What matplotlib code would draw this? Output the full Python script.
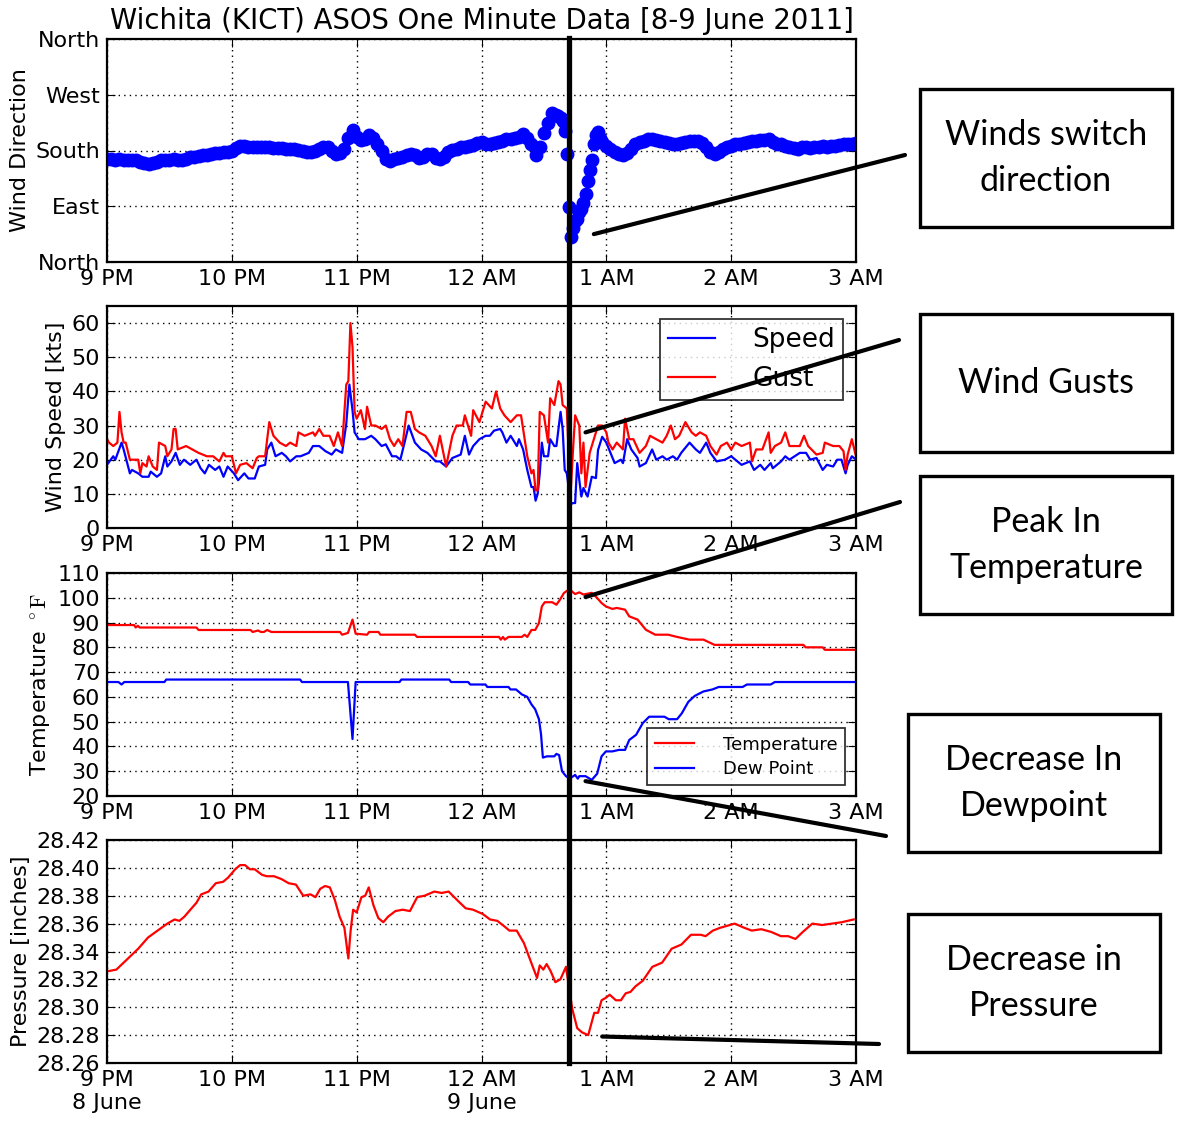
import numpy as np
import matplotlib
matplotlib.use("Agg")
import matplotlib.pyplot as plt
import matplotlib.transforms as mtransforms
from matplotlib.lines import Line2D
from matplotlib.patches import Rectangle, ConnectionPatch

plt.rcParams["mathtext.fontset"] = "cm"

W, H = 1177, 1127

# minutes after 9 PM (8 June)
hour_ticks = [0, 60, 120, 180, 240, 300, 360]
hour_labels = ["9 PM", "10 PM", "11 PM", "12 AM", "1 AM", "2 AM", "3 AM"]
bottom_labels = ["9 PM\n8 June", "10 PM", "11 PM", "12 AM\n9 June", "1 AM", "2 AM", "3 AM"]
split_t = 222

# wind direction [deg]
dir_t = np.r_[np.arange(0, 217, 2), np.arange(217, 238, 1), np.arange(238, 361, 2)]
dir_deg = [
    166, 166, 165, 166, 165, 165, 165, 164, 162, 160, 159, 160, 162, 164, 165, 165,
    166, 165, 165, 167, 169, 170, 171, 172, 173, 175, 176, 176, 177, 178, 179, 184,
    187, 188, 186, 186, 185, 186, 185, 185, 184, 184, 184, 183, 183, 182, 181, 179,
    177, 177, 179, 182, 186, 185, 180, 174, 176, 182, 200, 213, 202, 197, 198, 205,
    200, 190, 180, 167, 163, 166, 168, 170, 172, 175, 172, 168, 170, 174, 175, 168,
    166, 170, 178, 181, 183, 185, 186, 187, 189, 192, 194, 191, 190, 192, 194, 196,
    198, 199, 200, 202, 206, 200, 190, 172, 185, 208, 225, 240, 238,
    235, 232, 228, 212, 175, 88, 40, 55, 66, 70, 80, 85, 95, 110, 130, 148, 165, 190,
    205, 210, 200,
    194, 187, 182, 178, 175, 172, 176, 182, 190, 194, 196, 198, 198, 197, 195, 193,
    192, 190, 190, 192, 194, 195, 196, 196, 192, 185, 178, 175, 177, 182, 186, 188,
    190, 191, 192, 194, 195, 196, 197, 197, 198, 194, 191, 190, 188, 185, 184, 183,
    185, 186, 184, 185, 185, 187, 186, 187, 188, 189, 190, 191, 191, 192,
]

# wind gust / speed [kts]
gust_t = [0, 1, 3, 5, 6, 7, 8, 9, 11, 15, 16, 17, 19, 20, 22, 24, 25, 28, 29, 31, 32, 33, 34,
          38, 41, 44, 48, 51, 54, 56, 57, 60, 62, 64, 67, 70, 72, 73, 76, 78, 80, 83, 86, 88,
          91, 92, 95, 99, 100, 102, 104, 107, 109, 111, 113, 115, 116, 117, 118, 119, 120, 122,
          124, 125, 127, 129, 132, 134, 136, 138, 140, 142, 144, 146, 148, 150, 153, 156, 158,
          160, 163, 166, 168, 171, 172, 175, 176, 179, 182, 185, 187, 189, 191, 194, 197, 199,
          200, 202, 204, 205, 206, 207, 208, 210, 212, 213, 215, 217, 218, 219, 221, 222, 223,
          224, 225, 227, 228, 229, 230, 231, 232, 234, 236, 238, 240, 241, 243, 245, 248, 249,
          251, 253, 256, 259, 261, 264, 267, 269, 271, 273, 275, 278, 281, 283, 285, 288, 290,
          293, 295, 298, 300, 302, 305, 309, 310, 312, 315, 318, 319, 321, 324, 326, 328, 333,
          335, 337, 341, 344, 345, 349, 352, 354, 355, 356, 358, 360]
gust_kts = [26, 25, 24, 25, 34, 28, 25, 25, 20, 20, 16, 19, 18, 21, 18, 17, 25, 24, 21, 23, 29, 29, 23,
            24, 23, 22, 21, 21, 19.5, 22, 21, 21, 16, 18.5, 19, 17.5, 20.5, 21, 21, 31, 27, 25, 24, 25,
            24, 28, 27, 28, 27, 29, 27, 27, 24, 28, 24, 42, 43, 60, 53, 34, 32, 34.5,
            29, 35.5, 30, 30, 29, 30, 26, 24, 26, 24, 34, 34, 29, 28, 27, 24, 21,
            27, 18, 27, 30, 30, 33, 27, 34.5, 31, 37, 35, 40, 35, 33, 31, 33, 33,
            29, 21, 16, 17, 11, 11, 34, 33, 25, 38, 36, 43, 42, 36, 35, 20, 12,
            23, 33, 30, 16, 25, 12, 17, 22, 26, 30, 30, 28, 25, 23, 25, 23, 32,
            26, 26, 22, 24, 27, 26, 25, 27, 30, 26, 27, 31, 28, 27, 28, 27, 24,
            21.5, 24, 25, 23, 25, 24, 25, 19.5, 23, 23, 28, 22, 24, 25, 28, 24, 24,
            27, 24, 21.5, 22, 25, 24, 24, 22.5, 17, 21.5, 26, 21]

speed_t = [0, 3, 4, 7, 8, 11, 12, 15, 17, 20, 21, 24, 26, 28, 29, 31, 33, 35, 37, 40, 43, 45, 47,
           49, 52, 54, 56, 58, 61, 63, 66, 68, 71, 73, 76, 77, 79, 81, 84, 86, 88, 91, 93, 97, 99,
           102, 105, 108, 110, 113, 115, 116.5, 118, 119, 121, 124, 127, 129, 132, 134, 137, 139,
           141, 143, 145, 148, 151, 154, 158, 160, 163, 166, 170, 172, 174, 176, 179, 182, 184,
           186, 189, 190, 192, 194, 197, 198, 200, 202, 204, 205, 206, 207, 208, 209, 210, 212,
           213, 215, 216, 218, 219, 220, 221, 223, 224, 225, 226, 228, 229, 231, 233, 235, 236,
           238, 240, 242, 244, 247, 248, 250, 252, 255, 256, 259, 262, 264, 267, 269, 272, 274,
           276, 280, 283, 285, 288, 290, 293, 297, 300, 302, 305, 309, 311, 314, 316, 319, 320,
           324, 326, 328, 333, 336, 338, 341, 344, 346, 349, 351, 353, 355, 356, 358, 360]
speed_kts = [18.5, 21, 20, 25, 23, 16, 17, 16, 15, 15, 16.5, 15, 16, 21, 18, 19.5, 22, 18.5, 20, 18.5, 20, 17.5, 16,
             18.5, 17, 18, 15, 18, 16, 14, 16, 14.5, 14.5, 18, 18.5, 23, 25, 21, 22, 21, 19.5, 21, 21, 22, 24,
             24, 22.5, 21.5, 23, 22, 30.5, 42, 34.5, 28, 26, 26, 27, 26, 24, 24.5, 21, 21,
             20, 25, 30, 25, 23, 22, 19.5, 19.5, 18, 20.5, 21.5, 27, 21.5, 24, 26, 27, 27,
             28.5, 29, 28, 25, 27, 24, 26, 23, 17, 12, 12, 8, 10, 16, 25, 21, 21,
             26, 24, 24, 34, 29, 17, 16, 7, 7.3, 7.3, 19, 9.2, 11.7, 9.2, 15, 14.6, 22.8,
             26.7, 25, 22, 19, 20, 19, 26, 23, 20.5, 18, 19, 23, 20, 21, 20, 21, 20,
             22, 25, 23, 22, 25, 22, 19.5, 20, 21, 20, 18.5, 19.5, 17, 18.5, 17, 19, 17.5,
             19.5, 21, 20, 22, 22, 20, 20.5, 17, 18.5, 18, 20, 20, 16, 18.5, 21, 20]

# temperature / dew point [F]
temp_t = [0, 13, 13.8, 14.8, 15.7, 43, 44, 69, 70, 72.6, 74, 75.4, 77, 79, 112, 113, 115.8, 118,
          119.5, 125, 126, 130.5, 131.4, 148, 149, 188.4, 189.3, 190.3, 191.2, 193, 199.4, 200.7,
          202, 204, 205.8, 207.6, 209, 210.4, 214, 216, 217.7, 219.6, 221.4, 223, 225, 227, 229,
          233, 235.6, 237.7, 239.8, 242.9, 245, 249, 251, 255, 259, 263.5, 269.7, 274, 280,
          286.7, 292, 334.7, 335.8, 344, 345, 360]
temp_f = [89, 89, 88, 88.7, 88, 88, 87, 87, 86.2, 86.8, 86.2, 86.2, 87, 86.2, 86.2, 85.1, 85.8, 91.2,
          85.5, 85.1, 86.2, 86.2, 85.1, 85.1, 84.2, 84.2, 83.1, 84.2, 83.1, 84.2, 84.2, 85.1,
          84.2, 87, 87, 89.8, 96.5, 98.2, 98.2, 97.2, 99.2, 101.9, 103, 102.9, 101.5, 102.2, 101.3,
          102, 99.9, 97.9, 96.5, 95.5, 95.9, 95.2, 92.5, 91.2, 87.1, 85.1, 85.1, 84.2, 83.1,
          83.1, 81, 81, 80, 80, 79, 79]

dew_t = [0, 5.5, 7, 8.3, 27.6, 28.5, 92.8, 93.7, 115.8, 118, 119.5, 140.6, 141.5, 164.5, 165.4,
         173.6, 174.6, 181.9, 182.8, 193, 193.9, 196.6, 199.4, 202, 204, 205.8, 207.6, 208.6,
         209.5, 211.4, 215, 216, 217.3, 218.7, 220.6, 222.4, 225, 226.3, 227, 230, 233, 235.6,
         237.7, 239.8, 242.9, 246, 249, 251, 254.3, 257.5, 260.6, 267.9, 270, 274, 276.3, 279.4,
         282.5, 286.7, 291, 294, 305.5, 307.6, 319, 321, 360]
dew_f = [66, 66, 65, 66, 66, 67, 67, 66, 66, 43, 66, 66, 67, 67, 66,
         66, 65, 65, 64, 64, 63, 63, 61, 60, 57, 55, 51, 45,
         35.5, 36, 36, 37, 36.5, 30, 28, 27, 28.5, 27, 28, 28, 26.5, 29,
         36, 38, 38, 38.6, 38.6, 42.6, 44.7, 49.4, 52, 52, 51, 51, 53.4, 58,
         60.4, 62.2, 63, 64, 64, 65, 65, 66, 66]

# station pressure [inches]
pres_t = [1, 4.5, 8, 11.5, 15, 19.7, 24.3, 29, 32.5, 34.8, 37.2, 39.5, 43, 45.3, 48.8, 52.3, 55.8,
          58.2, 61.6, 64, 66.3, 68.7, 71, 74.5, 76.8, 80.3, 83.8, 87.3, 90.8, 94.3, 97.8, 100.2,
          102.5, 104.8, 107.1, 109.5, 111.8, 114.1, 116, 117.1, 118.3, 120, 122.3, 124.1, 125.8,
          128.1, 130.4, 132.8, 135.1, 138.6, 142.1, 145.6, 149.1, 152.6, 157.3, 160.8, 164.2,
          168.9, 172.4, 175.9, 180.5, 184.1, 187.6, 191, 193.4, 196.9, 200.4, 203.9, 206.7, 208,
          209.7, 211.3, 213.2, 215.5, 217.9, 220.6, 223.6, 226, 228.3, 231.3, 234.2, 236, 237.7,
          240, 241.6, 244.6, 247, 249.3, 251.6, 254, 257.5, 262.1, 266.8, 271.4, 276.1, 280.7,
          285.4, 287.7, 291.2, 294.7, 301.7, 306.3, 309.9, 314.5, 319.3, 323.9, 327.4, 330.9,
          334.4, 339, 343.7, 348.4, 353.1, 358.9]
pres_in = [28.326, 28.327, 28.332, 28.337, 28.342, 28.350, 28.355, 28.360, 28.363, 28.362, 28.365,
           28.369, 28.375, 28.381, 28.383, 28.389, 28.390, 28.393, 28.399, 28.402, 28.402, 28.399,
           28.399, 28.395, 28.394, 28.394, 28.392, 28.389, 28.388, 28.380, 28.381, 28.379, 28.385,
           28.387, 28.386, 28.377, 28.365, 28.357, 28.335, 28.355, 28.370, 28.368, 28.379, 28.380,
           28.386, 28.373, 28.364, 28.361, 28.365, 28.369, 28.370, 28.369, 28.379, 28.380, 28.383,
           28.382, 28.383, 28.376, 28.371, 28.370, 28.367, 28.363, 28.362, 28.358, 28.355, 28.355,
           28.346, 28.332, 28.321, 28.330, 28.327, 28.331, 28.326, 28.318, 28.320, 28.329, 28.299,
           28.285, 28.282, 28.280, 28.296, 28.296, 28.305, 28.307, 28.309, 28.305, 28.305, 28.310,
           28.311, 28.315, 28.319, 28.329, 28.332, 28.342, 28.345, 28.352, 28.352, 28.351, 28.355,
           28.357, 28.360, 28.357, 28.355, 28.356, 28.354, 28.351, 28.351, 28.349, 28.354, 28.360,
           28.359, 28.360, 28.361, 28.363]

notes = ["Winds switch\ndirection", "Wind Gusts", "Peak In\nTemperature",
         "Decrease In\nDewpoint", "Decrease in\nPressure"]


def px(x, y):
    return x / W, 1 - y / H


def setup_axis(ax, labels):
    ax.set_xlim(0, 360)
    ax.set_xticks(hour_ticks)
    ax.set_xticklabels(labels)
    ax.grid(True, ls=(0, (1, 3)), color="black", lw=1)
    ax.tick_params(direction="in", top=True, right=True, length=6, labelsize=16, pad=5)
    for s in ax.spines.values():
        s.set_linewidth(1.6)


fig = plt.figure(figsize=(W / 100, H / 100), dpi=100)
left, width, height = 107 / W, 749 / W, 223 / H
ax1 = fig.add_axes([left, 1 - 262 / H, width, height])
ax2 = fig.add_axes([left, 1 - 528 / H, width, 222 / H])
ax3 = fig.add_axes([left, 1 - 796 / H, width, height])
ax4 = fig.add_axes([left, 1 - 1063 / H, width, height])

ax1.plot(dir_t, dir_deg, "o", color="blue", mec="blue", ms=9)
ax1.set_ylim(0, 360)
ax1.set_yticks([0, 90, 180, 270, 360])
ax1.set_yticklabels(["North", "East", "South", "West", "North"])
ax1.set_ylabel("Wind Direction", fontsize=16)
ax1.set_title("Wichita (KICT) ASOS One Minute Data [8-9 June 2011]", fontsize=19.8, pad=7)
setup_axis(ax1, hour_labels)

ax2.plot(speed_t, speed_kts, color="blue", lw=1.6, label="Speed")
ax2.plot(gust_t, gust_kts, color="red", lw=1.6, label="Gust")
ax2.set_ylim(0, 65)
ax2.set_yticks(range(0, 61, 10))
ax2.set_ylabel("Wind Speed [kts]", fontsize=16)
setup_axis(ax2, hour_labels)
leg = ax2.legend(loc="upper right", fontsize=19, fancybox=False, edgecolor="black",
                 borderaxespad=0.5, handlelength=1.8, handletextpad=1.4, labelspacing=0.5,
                 borderpad=0.3)
leg.get_frame().set_linewidth(1.3)

ax3.plot(temp_t, temp_f, color="red", lw=1.6, label="Temperature")
ax3.plot(dew_t, dew_f, color="blue", lw=1.6, label="Dew Point")
ax3.set_ylim(20, 110)
ax3.set_yticks(range(20, 111, 10))
ax3.set_ylabel(r"Temperature $^\circ\mathrm{F}$", fontsize=16)
setup_axis(ax3, hour_labels)
leg = ax3.legend(loc="lower right", fontsize=13, fancybox=False, edgecolor="black",
                 borderaxespad=0.6, handlelength=2.2, handletextpad=1.6, labelspacing=0.35)
leg.get_frame().set_linewidth(1.3)

ax4.plot(pres_t, pres_in, color="red", lw=1.6)
ax4.set_ylim(28.26, 28.42)
ax4.set_yticks(np.arange(28.26, 28.4201, 0.02))
ax4.yaxis.set_major_formatter(plt.FormatStrFormatter("%.2f"))
ax4.set_ylabel("Pressure [inches]", fontsize=16)
setup_axis(ax4, bottom_labels)

# squall line passage
trans = mtransforms.blended_transform_factory(ax1.transData, fig.transFigure)
fig.add_artist(Line2D([split_t, split_t], [1 - 38 / H, 1 - 1063 / H], transform=trans,
                      color="black", lw=3.8))

# annotation boxes
boxes = [(920, 89), (920, 314), (920, 476), (908, 714), (908, 914)]
for (bx, by), txt in zip(boxes, notes):
    x0, y1 = px(bx, by + 138)
    fig.add_artist(Rectangle((x0, y1), 252 / W, 138 / H, transform=fig.transFigure,
                             fill=False, ec="black", lw=2.4))
    cx, cy = px(bx + 126, by + 69)
    fig.text(cx, cy, txt, ha="center", va="center", fontsize=24.5, family="Lato",
             linespacing=1.55)

links = [(ax1, (234, 45), (905, 155)),
         (ax2, (230, 28), (899, 340)),
         (ax3, (230, 100.3), (900, 502)),
         (ax3, (230, 26), (886, 836)),
         (ax4, (238, 28.279), (879, 1044))]
for ax, xy, end in links:
    fig.add_artist(ConnectionPatch(xyA=xy, coordsA=ax.transData, xyB=px(*end),
                                   coordsB=fig.transFigure, color="black", lw=3))

fig.savefig("out.png", dpi=100)
